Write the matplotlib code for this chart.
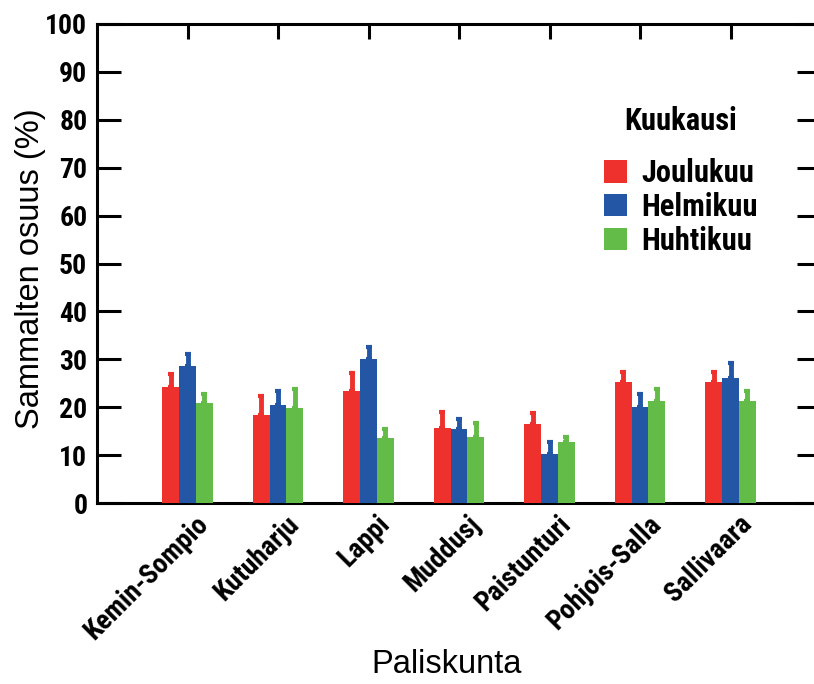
import matplotlib
matplotlib.use("Agg")
import matplotlib.pyplot as plt
import matplotlib.transforms as mtransforms
import numpy as np

categories = ["Kemin-Sompio", "Kutuharju", "Lappi", "Muddusj", "Paistunturi", "Pohjois-Salla", "Sallivaara"]
series_names = ["Joulukuu", "Helmikuu", "Huhtikuu"]
joulukuu = [24.2, 18.3, 23.4, 15.7, 16.4, 25.2, 25.3]
helmikuu = [28.6, 20.5, 30.0, 15.4, 10.2, 20.1, 26.2]
huhtikuu = [20.9, 19.9, 13.5, 13.8, 12.8, 21.2, 21.3]
joulukuu_err = [2.7, 4.0, 3.7, 3.4, 2.3, 2.2, 2.1]
helmikuu_err = [2.5, 2.9, 2.6, 2.1, 2.6, 2.6, 3.1]
huhtikuu_err = [1.8, 3.9, 1.9, 3.0, 1.0, 2.6, 2.1]
yticks = [0, 10, 20, 30, 40, 50, 60, 70, 80, 90, 100]

colors = ["#EE312C", "#2357A6", "#63BB48"]
COND = "Roboto Condensed"

fig = plt.figure(figsize=(8.14, 6.84), dpi=100)
ax = fig.add_axes([97/814, 1-503/684, (821-97)/814, (503-24)/684])

x = np.arange(len(categories))
w = 0.185
vals = [joulukuu, helmikuu, huhtikuu]
errs = [joulukuu_err, helmikuu_err, huhtikuu_err]
for i, (v, e, c, n) in enumerate(zip(vals, errs, colors, series_names)):
    xp = x + (i - 1) * w
    ax.bar(xp, v, width=w, color=c, label=n, zorder=3, linewidth=0)
    ax.errorbar(xp, v, yerr=[np.zeros(len(v)), e], fmt='none', ecolor=c,
                elinewidth=3.5, capsize=2, capthick=3, zorder=3)

ax.set_xlim(-1, 7)
ax.set_ylim(0, 100)
ax.set_yticks(yticks)
ax.set_yticklabels([str(t) for t in yticks], fontfamily=COND,
                   fontweight="bold", fontsize=20)
ax.set_xticks(x)
ax.set_xticklabels([])

offset = mtransforms.ScaledTranslation(17/100, -17/100, fig.dpi_scale_trans)
trans = ax.get_xaxis_transform() + offset
for xi, cat in zip(x, categories):
    ax.text(xi, 0, cat, transform=trans, rotation=45, ha="right", va="center",
            rotation_mode="anchor", fontfamily=COND, fontweight="bold", fontsize=20)

for s in ax.spines.values():
    s.set_linewidth(2.2)
ax.tick_params(axis="y", which="major", direction="in", length=17, width=2.2,
               left=True, right=True, pad=7)
ax.tick_params(axis="x", which="major", direction="in", length=11, width=2.2,
               bottom=False, top=True)

ax.set_ylabel("Sammalten osuus (%)", fontfamily="Liberation Sans", fontsize=23.5)
ax.yaxis.set_label_coords(-0.070, 0.49)
ax.set_xlabel("Paliskunta", fontfamily="Liberation Sans", fontsize=23.5, va="top")
ax.xaxis.set_label_coords(0.483, -0.305)

leg = ax.legend(loc="upper center", bbox_to_anchor=(681/814, 1-106/684),
                bbox_transform=fig.transFigure, frameon=False, borderpad=0,
                borderaxespad=0, title="Kuukausi", handlelength=0.75, handleheight=0.75,
                handletextpad=0.45, labelspacing=0.12,
                prop={"family": COND, "weight": "bold", "size": 22},
                title_fontproperties={"family": COND, "weight": "bold", "size": 22})
leg._legend_box.sep = 16

fig.savefig("out.png", dpi=100)
